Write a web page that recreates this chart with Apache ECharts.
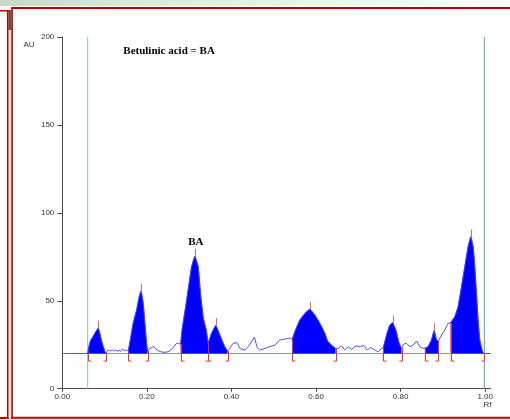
<!DOCTYPE html>
<html><head><meta charset="utf-8">
<script src="https://cdn.jsdelivr.net/npm/echarts@6/dist/echarts.min.js"></script>
<style>html,body{margin:0;padding:0;background:#fff}#c{width:510px;height:419px}</style>
</head><body><div id="c"></div><script>
// ---- data ----
const signalX = [0,0.060,0.063,0.067,0.072,0.077,0.085,0.093,0.1,0.1031,0.106,0.11,0.114,0.118,0.122,0.126,0.13,0.134,0.138,0.142,0.147,0.151,
0.1558,0.1615,0.1676,0.1757,0.1818,0.1862,0.1913,0.1953,0.1993,0.2017,0.2054,0.2149,0.2267,0.2385,0.2504,0.2608,0.2702,
0.2797,0.283,0.2875,0.2953,0.3057,0.3135,0.3213,0.3272,0.3336,0.3407,0.345,0.3529,0.3631,0.3726,0.379,0.385,0.3908,
0.3962,0.404,0.4135,0.4199,0.4317,0.4395,0.4475,0.454,0.4608,0.4671,0.479,0.4908,0.5026,0.5144,0.5262,0.538,
0.5435,0.5499,0.5617,0.5735,0.5853,0.5972,0.609,0.6208,0.6272,0.6366,0.6461,
0.6522,0.6603,0.6681,0.6759,0.6839,0.6941,0.7035,0.713,0.7208,0.7288,0.739,0.7468,0.7548,
0.7586,0.7667,0.7745,0.7809,0.7887,0.7965,0.8021,0.8076,0.814,0.8218,0.8296,0.8376,0.8454,0.8532,
0.8572,0.865,0.873,0.8792,0.8849,0.8887,0.8967,0.9045,0.9123,
0.918,0.9281,0.9359,0.944,0.9518,0.9596,0.966,0.9714,0.9754,0.9794,0.9832,0.9872,0.9936,0.9967];
const signalAU = [20,20,24,27.5,29.3,31.5,34.5,27,21.5,20,21.5,22,21.4,22.2,21.3,22,21.2,21.9,21.3,22.5,21.6,22,
21.4,28.6,37.2,44.7,52.3,55.5,48.5,37.2,25.8,21.6,22.4,23.9,21.6,20.7,21,22.9,25.8,
25.4,33,40,52.3,69.3,75.3,69.3,53,40,33,25.8,31.5,36,30.5,26.7,23.5,21.5,
22.9,25.8,26.1,22.9,22,23.9,26.7,29.2,23.5,22,22.9,23.9,24.8,27.7,28.2,28.8,
28,32.4,39,42.8,45.2,41.9,37.2,31.5,27.1,24.8,23,
22.9,24.3,22,23.9,22.4,24.3,23.9,24.6,22,23.3,22,21,23,
23,30.5,36.2,37.5,33.4,25.8,23,25.4,25.8,23.9,24.8,27.1,23.9,23,
23,23.9,27.7,33,27.7,27.1,30.5,33.4,37.2,
37.5,40.9,46.6,58,69.3,80.7,86.4,80.7,69.3,54.2,39,27.7,21,20];
const peakStart = [0.06,0.1558,0.2797,0.345,0.5435,0.7586,0.8572,0.918];
const peakEnd   = [0.1031,0.2017,0.345,0.3908,0.6461,0.8021,0.8887,0.9967];
const baselineAU = 20;
const bracketAU = 15.7;
const frontRf = [0.06, 0.998];
const xTicks = [0,0.2,0.4,0.6,0.8,1.0];
const yTicks = [0,50,100,150,200];

// ---- build ----
const SM = 0.1;
const signal = signalX.map((x,i)=>[x, signalAU[i]]);
const valAt = x => { const i = signalX.indexOf(x); return signalAU[i]; };
const fills = peakStart.map((s,k)=>({
  type:'line', data: signal.filter(p=>p[0]>=s && p[0]<=peakEnd[k]),
  symbol:'none', smooth:SM, lineStyle:{width:0.6,color:'#0000ff'},
  areaStyle:{color:'#0000ff',opacity:1,origin:baselineAU}, z:3, silent:true
}));
const brackets = [];
peakStart.forEach((s,k)=>{ brackets.push([s, valAt(s), 1]); brackets.push([peakEnd[k], valAt(peakEnd[k]), -1]); });
const apexes = peakStart.map((s,k)=>{
  const pts = signal.filter(p=>p[0]>=s && p[0]<=peakEnd[k]);
  return pts.reduce((a,b)=>b[1]>a[1]?b:a);
});

const chart = echarts.init(document.getElementById('c'));
chart.setOption({
  animation:false,
  backgroundColor:'#ffffff',
  grid:{left:62.3, top:37, width:428.4, height:351.7, containLabel:false},
  xAxis:{type:'value', min:0, max:1.013,
    splitLine:{show:false},
    axisLine:{lineStyle:{color:'#4a4a4a',width:1}},
    axisTick:{customValues:xTicks, length:3, lineStyle:{color:'#4a4a4a'}},
    axisLabel:{customValues:xTicks, formatter:v=>v.toFixed(2), fontSize:8, color:'#333', margin:4, fontFamily:'Liberation Sans'}},
  yAxis:{type:'value', min:0, max:200, interval:50,
    splitLine:{show:false},
    axisLine:{show:true, lineStyle:{color:'#4a4a4a',width:1}},
    axisTick:{show:true, length:5, lineStyle:{color:'#4a4a4a'}},
    axisLabel:{fontSize:8, color:'#333', margin:8, fontFamily:'Liberation Sans'}},
  series:[
    {type:'line', data:[[frontRf[0],baselineAU],[frontRf[1],baselineAU]], symbol:'none', lineStyle:{color:'#6fa6a6',width:1}, z:1, silent:true},
    {type:'line', data:[[frontRf[1],baselineAU],[1.013,baselineAU]], symbol:'none', lineStyle:{color:'#555',width:1}, z:1, silent:true},
    {type:'line', data:[[frontRf[0],0],[frontRf[0],200]], symbol:'none', lineStyle:{color:'#92c0c0',width:1}, z:1, silent:true},
    {type:'line', data:[[frontRf[1],0],[frontRf[1],200]], symbol:'none', lineStyle:{color:'#5fa3a0',width:1}, z:1, silent:true},
    ...fills,
    {type:'line', data:signal, symbol:'none', smooth:SM, lineStyle:{color:'#4040ff',width:1}, z:4, silent:true},
    {type:'custom', data:brackets, z:5, silent:true,
      renderItem:(params, api)=>{
        const x = api.value(0), top = api.value(1), dir = api.value(2);
        const p0 = api.coord([x, top]), p1 = api.coord([x, bracketAU]);
        return {type:'polyline', shape:{points:[[Math.round(p0[0])+0.5,p0[1]],[Math.round(p1[0])+0.5,p1[1]],[Math.round(p1[0])+0.5+dir*3,p1[1]]]},
          style:{stroke:'#ff2a2a', lineWidth:1, fill:null}};
      }},
    {type:'custom', data:apexes, z:5, silent:true,
      renderItem:(params, api)=>{
        const x = api.value(0), v = api.value(1);
        const p0 = api.coord([x, v]), p1 = api.coord([x, v+4.2]);
        return {type:'line', shape:{x1:Math.round(p0[0])+0.5,y1:p0[1],x2:Math.round(p1[0])+0.5,y2:p1[1]},
          style:{stroke:'#ff6060', lineWidth:1}};
      }}
  ],
  graphic:[
    {type:'rect', shape:{x:0,y:0,width:510,height:6}, style:{fill:new echarts.graphic.LinearGradient(0,0,1,0,[{offset:0,color:'#c5d9c5'},{offset:0.3,color:'#dfeadf'},{offset:1,color:'#ffffff'}])}, silent:true},
    {type:'rect', shape:{x:8.5,y:10,width:2.8,height:409}, style:{fill:'#ebe3d2'}, silent:true},
    {type:'rect', shape:{x:8.5,y:10,width:2.8,height:20}, style:{fill:'#4f6040'}, silent:true},
    {type:'rect', shape:{x:0,y:10,width:8.5,height:1.5}, style:{fill:'#c00000'}, silent:true},
    {type:'rect', shape:{x:7,y:10,width:1.5,height:409}, style:{fill:'#c00000'}, silent:true},
    {type:'rect', shape:{x:0,y:417,width:8.5,height:2}, style:{fill:'#c00000'}, silent:true},
    {type:'rect', shape:{x:11.3,y:7,width:498.7,height:2}, style:{fill:'#c00000'}, silent:true},
    {type:'rect', shape:{x:11.3,y:7,width:1.6,height:412}, style:{fill:'#c00000'}, silent:true},
    {type:'rect', shape:{x:11.3,y:416.8,width:498.7,height:2}, style:{fill:'#c00000'}, silent:true},
    {type:'text', x:29, y:45, style:{text:'AU', fontSize:8, fontFamily:'Liberation Sans', fill:'#333', align:'center', verticalAlign:'middle'}},
    {type:'text', x:487.5, y:404.5, style:{text:'Rf', fontSize:8, fontFamily:'Liberation Sans', fill:'#333', align:'center', verticalAlign:'middle'}},
    {type:'text', x:123.3, y:51, style:{text:'Betulinic acid = BA', font:'bold 11px "Liberation Serif"', fill:'#000', align:'left', verticalAlign:'middle'}},
    {type:'text', x:195.8, y:242, style:{text:'BA', font:'bold 11px "Liberation Serif"', fill:'#000', align:'center', verticalAlign:'middle'}}
  ]
});
</script></body></html>
